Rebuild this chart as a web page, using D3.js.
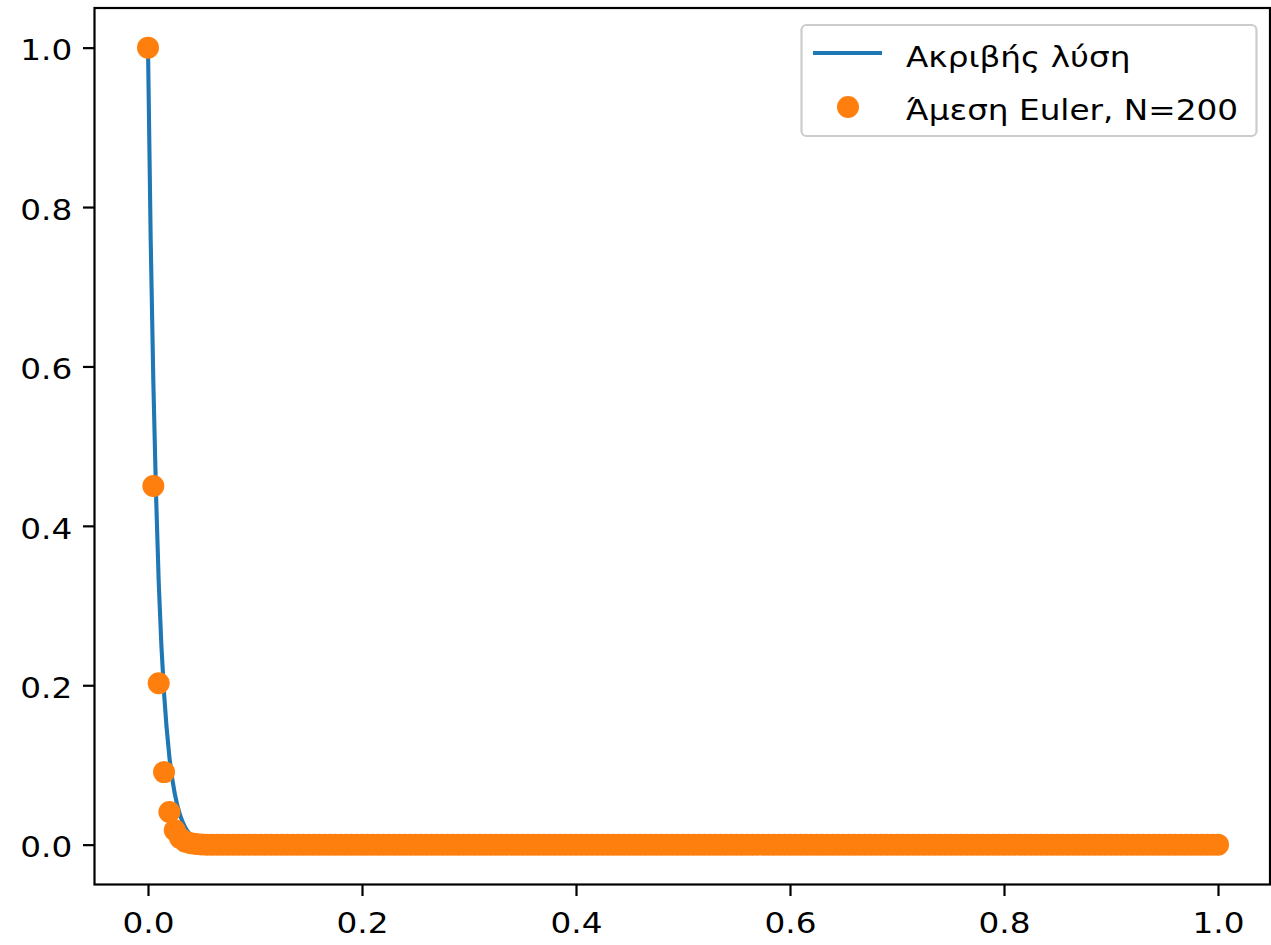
<!DOCTYPE html>
<html>
<head>
<meta charset="utf-8">
<script src="https://cdn.jsdelivr.net/npm/d3@7"></script>
<style>
body { margin: 0; background: white; }
text { font-family: "DejaVu Sans", sans-serif; }
</style>
</head>
<body>
<div id="canvas"></div>
<script>
var w = 1271;
var h = 945;

// exact solution, values
var exactT = [0, 0.0025, 0.005, 0.0075, 0.01, 0.0125, 0.015, 0.02, 0.025, 0.03, 0.035, 0.04, 0.05, 0.06, 0.08, 1.0];
var exactY = [1.0, 0.76, 0.58, 0.44, 0.33, 0.25, 0.19, 0.11, 0.064, 0.037, 0.021, 0.012, 0.004, 0.001, 0, 0];

// explicit Euler, N=200 steps on [0,1]; the first values, the rest sit on 0
var N = 200;
var eulerHead = [1.0, 0.45, 0.2025, 0.091, 0.041, 0.018, 0.0083, 0.0037, 0.0017, 0.0008, 0.0003];

var xTicks = [0.0, 0.2, 0.4, 0.6, 0.8, 1.0];
var yTicks = [0.0, 0.2, 0.4, 0.6, 0.8, 1.0];

var legendLabels = ["Ακριβής λύση", "Άμεση Euler, N=200"];

var blue = "#1f77b4";
var orange = "#ff7f0e";
var fs = 29.2;   // font size
var sx = 1.12;   // the reference text is a little wider than it is tall

var pLeft = 94.5, pRight = 1270, pTop = 8, pBottom = 884.5;

var canvas = d3.select("#canvas")
    .append("svg")
    .attr("width", w)
    .attr("height", h);

var xScale = d3.scaleLinear().domain([-0.05, 1.05]).range([pLeft, pLeft + (1218 - 148) * 1.1]);
var yScale = d3.scaleLinear().domain([-0.05, 1.05]).range([pBottom, pBottom - (845 - 48) * 1.1]);

canvas.append("clipPath").attr("id", "clip")
    .append("rect")
    .attr("x", pLeft).attr("y", pTop)
    .attr("width", pRight - pLeft).attr("height", pBottom - pTop);

var exact = exactT.map(function(t, i) { return [t, exactY[i]]; });
var euler = d3.range(N + 1).map(function(i) {
    return [i / N, i < eulerHead.length ? eulerHead[i] : 0];
});

var plot = canvas.append("g").attr("clip-path", "url(#clip)");

var line = d3.line()
    .x(function(d) { return xScale(d[0]); })
    .y(function(d) { return yScale(d[1]); })
    .curve(d3.curveMonotoneX);

plot.append("path")
    .datum(exact)
    .attr("d", line)
    .attr("fill", "none")
    .attr("stroke", blue)
    .attr("stroke-width", 4.1);

plot.selectAll("circle")
    .data(euler)
    .join("circle")
    .attr("cx", function(d) { return xScale(d[0]); })
    .attr("cy", function(d) { return yScale(d[1]); })
    .attr("r", 11)
    .attr("fill", orange);

// axes
var xAxis = d3.axisBottom(xScale)
    .tickValues(xTicks)
    .tickSize(11.5)
    .tickPadding(16.3)
    .tickFormat(d3.format(".1f"));

var yAxis = d3.axisLeft(yScale)
    .tickValues(yTicks)
    .tickSize(11.5)
    .tickPadding(10.8)
    .tickFormat(d3.format(".1f"));

var gx = canvas.append("g")
    .attr("transform", "translate(0," + pBottom + ")")
    .call(xAxis);
var gy = canvas.append("g")
    .attr("transform", "translate(" + pLeft + ",0)")
    .call(yAxis);

function styleAxis(g) {
    g.select(".domain").remove();
    g.selectAll(".tick line").attr("stroke", "black").attr("stroke-width", 2.2);
    g.selectAll(".tick text")
        .attr("fill", "black")
        .style("font-size", fs + "px")
        .style("font-family", "DejaVu Sans");
}
styleAxis(gx);
styleAxis(gy);

gx.selectAll(".tick text").attr("transform", "scale(" + sx + ",1)");
gy.selectAll(".tick text")
    .attr("x", -(11.5 + 10.8) / sx)
    .attr("dy", "0.42em")
    .attr("transform", "scale(" + sx + ",1)");

canvas.append("rect")
    .attr("x", pLeft).attr("y", pTop)
    .attr("width", pRight - pLeft).attr("height", pBottom - pTop)
    .attr("fill", "none")
    .attr("stroke", "black")
    .attr("stroke-width", 2.2);

// legend
var legend = canvas.append("g").attr("class", "legend");

legend.append("rect")
    .attr("x", 801.5).attr("y", 25)
    .attr("width", 455).attr("height", 111)
    .attr("rx", 5).attr("ry", 5)
    .attr("fill", "white")
    .attr("fill-opacity", 0.8)
    .attr("stroke", "#cccccc")
    .attr("stroke-width", 2.2);

legend.append("line")
    .attr("x1", 813).attr("x2", 882)
    .attr("y1", 53).attr("y2", 53)
    .attr("stroke", blue)
    .attr("stroke-width", 4.1);

legend.append("circle")
    .attr("cx", 848).attr("cy", 107)
    .attr("r", 11)
    .attr("fill", orange);

legend.selectAll("text.label")
    .data(legendLabels)
    .join("text")
    .attr("class", "label")
    .attr("transform", function(d, i) { return "translate(906," + (67 + i * 53) + ") scale(" + sx + ",1)"; })
    .attr("fill", "black")
    .style("font-size", fs + "px")
    .text(function(d) { return d; });
</script>
</body>
</html>
